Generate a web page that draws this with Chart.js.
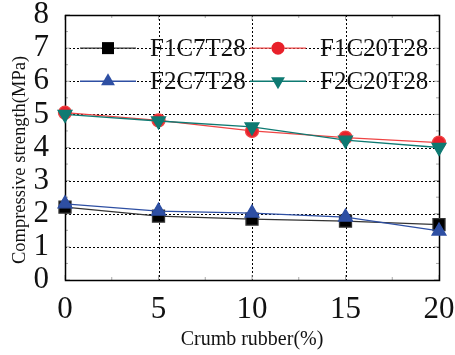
<!DOCTYPE html>
<html>
<head>
<meta charset="utf-8">
<script src="https://cdn.jsdelivr.net/npm/chart.js@4"></script>
<style>
  html, body { margin: 0; padding: 0; background: #fff; }
  #wrap { width: 455px; height: 355px; }
</style>
</head>
<body>
<div id="wrap"><canvas id="c" width="455" height="355"></canvas></div>
<script>
// crumb rubber content (%)
var rubber = [0, 5, 10, 15, 20];
// compressive strength (MPa)
var f1c7t28 = [2.2, 1.93, 1.84, 1.78, 1.67];
var f1c20t28 = [5.05, 4.82, 4.5, 4.3, 4.15];
var f2c7t28 = [2.3, 2.08, 2.02, 1.9, 1.48];
var f2c20t28 = [5.0, 4.8, 4.62, 4.22, 4.0];
var xTicks = [0, 5, 10, 15, 20];
var yTicks = [0, 1, 2, 3, 4, 5, 6, 7, 8];

var FONT = "'Liberation Serif', 'DejaVu Serif', serif";

function pts(vals) {
  return vals.map(function(v, i) { return { x: rubber[i], y: v }; });
}

// dotted grid, frame, inward ticks and axis titles
var frame = {
  id: 'frame',
  beforeDatasetsDraw: function(chart) {
    var a = chart.chartArea, ctx = chart.ctx;
    var sx = chart.scales.x, sy = chart.scales.y;
    ctx.save();
    ctx.strokeStyle = '#000';
    ctx.lineWidth = 1;
    ctx.setLineDash([2, 2]);
    xTicks.forEach(function(v) {
      var px = Math.round(sx.getPixelForValue(v)) + 0.5;
      ctx.beginPath(); ctx.moveTo(px, a.top); ctx.lineTo(px, a.bottom); ctx.stroke();
    });
    yTicks.forEach(function(v) {
      var py = Math.round(sy.getPixelForValue(v)) + 0.5;
      ctx.beginPath(); ctx.moveTo(a.left, py); ctx.lineTo(a.right, py); ctx.stroke();
    });
    ctx.setLineDash([]);
    ctx.strokeStyle = '#aaa';
    for (var v = 0; v <= 20; v += 2.5) {
      var px = sx.getPixelForValue(v);
      var len = (v % 5 === 0) ? 5 : 3;
      ctx.beginPath();
      ctx.moveTo(px, a.bottom); ctx.lineTo(px, a.bottom - len);
      ctx.moveTo(px, a.top); ctx.lineTo(px, a.top + len);
      ctx.stroke();
    }
    for (var w = 0; w <= 8; w += 0.5) {
      var py = sy.getPixelForValue(w);
      var l2 = (w % 1 === 0) ? 5 : 3;
      ctx.beginPath();
      ctx.moveTo(a.left, py); ctx.lineTo(a.left + l2, py);
      ctx.moveTo(a.right, py); ctx.lineTo(a.right - l2, py);
      ctx.stroke();
    }
    ctx.strokeStyle = '#000';
    ctx.lineWidth = 1.5;
    ctx.strokeRect(Math.round(a.left) + 0.5, Math.round(a.top) + 0.5,
                   Math.round(a.right - a.left), Math.round(a.bottom - a.top));

    // axis titles
    ctx.fillStyle = '#111';
    ctx.textAlign = 'center';
    ctx.textBaseline = 'middle';
    ctx.font = '20px ' + FONT;
    ctx.fillText('Crumb rubber(%)', 252, 340);
    ctx.translate(20, 160);
    ctx.rotate(-Math.PI / 2);
    ctx.font = '18.5px ' + FONT;
    ctx.fillText('Compressive strength(MPa)', 0, 0);
    ctx.restore();
  }
};

// legend drawn by hand: line with marker in the middle, 2 columns
var lineLegend = {
  id: 'lineLegend',
  afterDatasetsDraw: function(chart) {
    var ctx = chart.ctx;
    var y7 = chart.scales.y.getPixelForValue(7);
    var y6 = chart.scales.y.getPixelForValue(6);
    var slots = [[80, y7], [250, y7], [80, y6], [250, y6]];
    ctx.save();
    chart.data.datasets.forEach(function(ds, k) {
      var x = slots[k][0], y = slots[k][1];
      ctx.strokeStyle = ds.borderColor;
      ctx.lineWidth = ds.borderWidth;
      ctx.beginPath();
      ctx.moveTo(x, y);
      ctx.lineTo(x + 56, y);
      ctx.stroke();
      ctx.fillStyle = ds.pointBackgroundColor;
      Chart.helpers.drawPoint(ctx, {
        pointStyle: ds.pointStyle,
        radius: ds.pointRadius,
        rotation: ds.pointRotation || 0,
        borderWidth: 0
      }, x + 28, y);
      ctx.fillStyle = '#111';
      ctx.font = '25px ' + FONT;
      ctx.textBaseline = 'middle';
      ctx.fillText(ds.label, x + 70, y + 1);
    });
    ctx.restore();
  }
};

new Chart(document.getElementById('c'), {
  type: 'line',
  data: {
    datasets: [
      { label: 'F1C7T28', data: pts(f1c7t28), borderColor: '#333', pointBackgroundColor: '#000',
        pointStyle: 'rect', pointRadius: 8.5, borderWidth: 1.3, order: 4 },
      { label: 'F1C20T28', data: pts(f1c20t28), borderColor: '#ef4444', pointBackgroundColor: '#e8202a',
        pointStyle: 'circle', pointRadius: 6.5, borderWidth: 1.3, order: 3 },
      { label: 'F2C7T28', data: pts(f2c7t28), borderColor: '#2e4fa3', pointBackgroundColor: '#2e4fa3',
        pointStyle: 'triangle', pointRadius: 8, borderWidth: 1.3, order: 2 },
      { label: 'F2C20T28', data: pts(f2c20t28), borderColor: '#0e7a72', pointBackgroundColor: '#0e7a72',
        pointStyle: 'triangle', pointRotation: 180, pointRadius: 8, borderWidth: 1.3, order: 1 }
    ]
  },
  options: {
    responsive: false,
    animation: false,
    clip: false,
    elements: { point: { borderWidth: 0, hoverRadius: 8 }, line: { tension: 0 } },
    layout: { padding: { left: 0, right: 16, top: 15, bottom: 0 } },
    plugins: { legend: { display: false }, tooltip: { enabled: false } },
    scales: {
      x: {
        type: 'linear', min: 0, max: 20,
        afterBuildTicks: function(s) { s.ticks = xTicks.map(function(v) { return { value: v }; }); },
        ticks: { color: '#111', font: { family: FONT, size: 31 }, padding: 3, maxRotation: 0, autoSkip: false },
        grid: { display: false },
        border: { display: false },
        afterFit: function(s) { s.height = 75; s.paddingLeft = 0; s.paddingRight = 0; }
      },
      y: {
        min: 0, max: 8,
        afterBuildTicks: function(s) { s.ticks = yTicks.map(function(v) { return { value: v }; }); },
        ticks: { color: '#111', font: { family: FONT, size: 31 }, padding: 8, autoSkip: false },
        grid: { display: false },
        border: { display: false },
        afterFit: function(s) { s.width = 65; s.paddingTop = 0; s.paddingBottom = 0; }
      }
    }
  },
  plugins: [frame, lineLegend]
});
</script>
</body>
</html>
